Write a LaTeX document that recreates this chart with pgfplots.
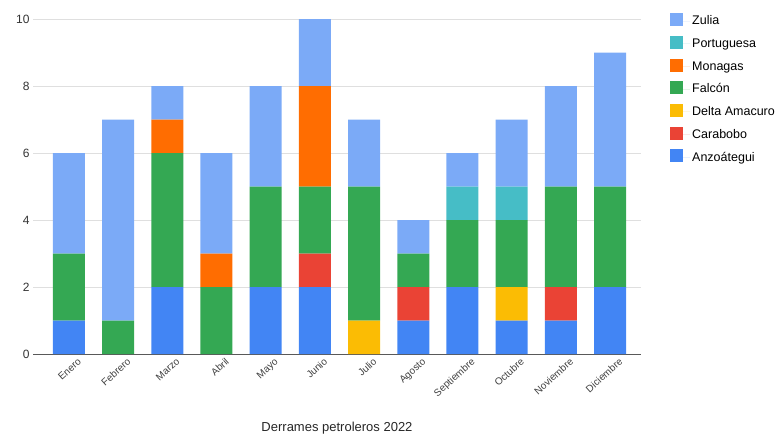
\documentclass[border=0pt]{standalone}
\usepackage{fontspec}
\setmainfont{Liberation Sans}
\usepackage{pgfplots}
\usepackage{pgfplotstable}
\pgfplotsset{compat=1.18}

\definecolor{cAnz}{HTML}{4285F4}
\definecolor{cCar}{HTML}{EA4335}
\definecolor{cDel}{HTML}{FBBC04}
\definecolor{cFal}{HTML}{34A853}
\definecolor{cMon}{HTML}{FF6D01}
\definecolor{cPor}{HTML}{46BDC6}
\definecolor{cZul}{HTML}{7BAAF7}

% month index, then one column per state
\pgfplotstableread{
m Anz Car Del Fal Mon Por Zul
0  1 0 0 2 0 0 3
1  0 0 0 1 0 0 6
2  2 0 0 4 1 0 1
3  0 0 0 2 1 0 3
4  2 0 0 3 0 0 3
5  2 1 0 2 3 0 2
6  0 0 1 4 0 0 2
7  1 1 0 1 0 0 1
8  2 0 0 2 0 1 1
9  1 0 1 2 0 1 2
10 1 1 0 3 0 0 3
11 2 0 0 3 0 0 4
}\derrames

\begin{document}
\begin{tikzpicture}
\useasboundingbox (-33pt,-83pt) rectangle (748pt,354pt);
\begin{axis}[
    scale only axis,
    width=608pt, height=335pt,
    ybar stacked,
    bar width=32pt,
    xmin=-0.73, xmax=11.63,
    ymin=0, ymax=10,
    ytick={0,2,4,6,8,10},
    xtick=data,
    xticklabels={Enero,Febrero,Marzo,Abril,Mayo,Junio,Julio,Agosto,Septiembre,Octubre,Noviembre,Diciembre},
    x tick label style={rotate=42, anchor=north east, font=\fontsize{10}{12}\selectfont, text=black!75, inner sep=1pt, xshift=5pt, yshift=-7pt},
    y tick label style={font=\fontsize{12}{14}\selectfont, text=black!80},
    /pgf/number format/assume math mode=true,
    ymajorgrids=true,
    grid style={gray!25, line width=0.8pt},
    axis x line*=bottom,
    axis y line*=left,
    y axis line style={draw=none},
    x axis line style={draw=black!65, line width=0.8pt},
    tick style={draw=none},
    every axis plot/.append style={draw=none},
    reverse legend,
    legend style={at={(1,1)}, anchor=north west, xshift=26pt, yshift=8pt,
        draw=none, fill=none, font=\fontsize{12.5}{14}\selectfont,
        row sep=7.5pt, cells={anchor=west}},
    legend image code/.code={\path (0pt,0pt) -- (20pt,0pt);
        \fill[#1] (0pt,-5pt) rectangle (13pt,8pt);},
]
\addplot[fill=cAnz] table[x=m, y=Anz] {\derrames};
\addplot[fill=cCar] table[x=m, y=Car] {\derrames};
\addplot[fill=cDel] table[x=m, y=Del] {\derrames};
\addplot[fill=cFal] table[x=m, y=Fal] {\derrames};
\addplot[fill=cMon] table[x=m, y=Mon] {\derrames};
\addplot[fill=cPor] table[x=m, y=Por] {\derrames};
\addplot[fill=cZul] table[x=m, y=Zul] {\derrames};
\legend{Anzoátegui,Carabobo,Delta Amacuro,Falcón,Monagas,Portuguesa,Zulia}
\end{axis}
\node[font=\fontsize{13}{15}\selectfont, text=black!85] at (304pt,-74pt) {Derrames petroleros 2022};
\end{tikzpicture}
\end{document}
